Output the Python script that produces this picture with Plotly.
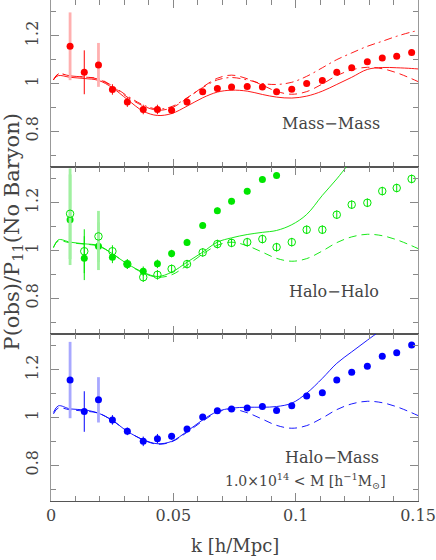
import plotly.graph_objects as go
from plotly.subplots import make_subplots

# k bins of the measured points [h/Mpc]
k_data = [0.0078, 0.0136, 0.0194, 0.0251, 0.0312, 0.0377, 0.0435, 0.0493,
          0.0556, 0.0620, 0.0680, 0.0738, 0.0802, 0.0864, 0.0922, 0.0984,
          0.1045, 0.1109, 0.1168, 0.1229, 0.1293, 0.1354, 0.1413, 0.1474]

# k grid of the model curves
k_model = [0.001, 0.003, 0.0078, 0.0136, 0.0194, 0.0251, 0.0312, 0.0377,
           0.0435, 0.0493, 0.0556, 0.0620, 0.0680, 0.0738, 0.0802, 0.0864,
           0.0922, 0.0984, 0.1045, 0.1109, 0.1168, 0.1229, 0.1293, 0.1354,
           0.1413, 0.1474, 0.15]

# Mass-Mass
mm_obs = [1.156, 1.047, 1.078, 0.975, 0.922, 0.891, 0.891, 0.888, 0.922, 0.965,
          0.979, 0.985, 0.987, 0.985, 0.965, 0.976, 1.000, 1.013, 1.047, 1.066,
          1.091, 1.107, 1.114, 1.130]
mm_err = [0.142, 0.092, 0.092, 0.022, 0.020, 0.020, 0.020, 0.016, 0.014, 0.012,
          0.010, 0.010, 0.009, 0.009, 0.008, 0.008, 0.008, 0.007, 0.007, 0.007,
          0.006, 0.006, 0.006, 0.006]
mm_model = [1.017, 1.033, 1.026, 1.021, 1.013, 0.982, 0.933, 0.884, 0.866, 0.874,
            0.905, 0.940, 0.964, 0.972, 0.968, 0.954, 0.943, 0.939, 0.947, 0.968,
            0.996, 1.026, 1.059, 1.067, 1.066, 1.063, 1.061]
mm_nonlin = [1.015, 1.040, 1.032, 1.027, 1.020, 0.990, 0.948, 0.910, 0.893, 0.903,
             0.940, 0.983, 1.015, 1.025, 1.015, 1.000, 0.996, 1.005, 1.030, 1.066,
             1.100, 1.128, 1.156, 1.177, 1.198, 1.216, 1.222]

# linear BAO ratio (dashed, same in every panel)
linear_bao = [1.015, 1.040, 1.032, 1.027, 1.018, 0.987, 0.943, 0.906, 0.888, 0.898,
              0.938, 0.985, 1.022, 1.035, 1.020, 0.993, 0.967, 0.955, 0.966, 0.998,
              1.033, 1.057, 1.068, 1.062, 1.045, 1.020, 1.008]

# Halo-Halo
hh_filled = [1.129, 0.968, 1.018, 0.972, 0.943, 0.913, 0.944, 0.987, 1.034, 1.105,
             1.167, 1.206, 1.248, 1.298, 1.314, None, None, None, None, None,
             None, None, None, None]
hh_filled_err = [0.190, 0.092, 0.100, 0.025, 0.020, 0.020, 0.018, 0.016, 0.015, 0.014,
                 0.013, 0.013, 0.013, 0.012, 0.012, 0, 0, 0, 0, 0, 0, 0, 0, 0]
hh_open = [1.154, 0.997, 1.059, 0.997, 0.943, 0.888, 0.898, 0.923, 0.943, 0.992,
           1.027, 1.032, 1.035, 1.048, 1.014, 1.035, 1.087, 1.087, 1.150, 1.192,
           1.200, 1.249, 1.262, 1.300]
hh_open_err = [0.190, 0.092, 0.107, 0.025, 0.020, 0.020, 0.020, 0.018, 0.018, 0.018,
               0.018, 0.018, 0.018, 0.018, 0.018, 0.018, 0.018, 0.018, 0.018, 0.018,
               0.018, 0.018, 0.018, 0.018]
hh_model = [1.011, 1.045, 1.035, 1.028, 1.021, 0.986, 0.944, 0.909, 0.891, 0.909,
            0.951, 0.993, 1.035, 1.053, 1.067, 1.076, 1.084, 1.108, 1.151, 1.231,
            1.300, 1.380, None, None, None, None, None]

# Halo-Mass
hm_obs = [1.157, 1.025, 1.074, 0.990, 0.942, 0.900, 0.911, 0.921, 0.952, 1.002,
          1.028, 1.036, 1.040, 1.046, 1.029, 1.049, 1.090, 1.104, 1.157, 1.190,
          1.215, 1.257, 1.271, 1.304]
hm_err = [0.160, 0.085, 0.095, 0.020, 0.016, 0.020, 0.020, 0.014, 0.012, 0.010,
          0.010, 0.009, 0.009, 0.009, 0.008, 0.008, 0.008, 0.008, 0.007, 0.007,
          0.007, 0.007, 0.007, 0.007]
hm_model = [1.021, 1.049, 1.036, 1.032, 1.018, 0.988, 0.942, 0.907, 0.890, 0.900,
            0.942, 0.990, 1.025, 1.039, 1.043, 1.043, 1.046, 1.060, 1.102, 1.164,
            1.227, 1.275, 1.324, 1.370, None, None, None]

FAINT = (0, 2)   # bins drawn with the wide pale error bar
FONT = "DejaVu Serif"
TXT = "#444444"

fig = make_subplots(rows=3, cols=1, shared_xaxes=True, vertical_spacing=0)


def add_points(row, y, err, col, pale, symbol="circle"):
    wide = [e if (i in FAINT and v is not None) else 0 for i, (e, v) in enumerate(zip(err, y))]
    thin = [0 if i in FAINT else e for i, e in enumerate(err)]
    fig.add_trace(go.Scatter(x=k_data, y=y, mode="markers",
                             marker=dict(size=7, color="rgba(0,0,0,0)"),
                             error_y=dict(type="data", array=wide, visible=True,
                                          color=pale, thickness=2.8, width=0),
                             showlegend=False), row=row, col=1)
    if symbol == "circle":
        mk = dict(size=7, color=col, symbol="circle")
    else:
        mk = dict(size=7.5, color=col, symbol="circle-open", line=dict(width=1))
    fig.add_trace(go.Scatter(x=k_data, y=y, mode="markers", marker=mk,
                             error_y=dict(type="data", array=thin, visible=True,
                                          color=col, thickness=1, width=0),
                             showlegend=False), row=row, col=1)


def add_curve(row, y, col, dash):
    fig.add_trace(go.Scatter(x=k_model, y=y, mode="lines",
                             line=dict(color=col, width=0.9, dash=dash, shape="spline"),
                             showlegend=False), row=row, col=1)


# panel 1
add_curve(1, mm_model, "#ff0000", "solid")
add_curve(1, linear_bao, "#ff0000", "8px,5px")
add_curve(1, mm_nonlin, "#ff0000", "8px,4px,2px,4px")
add_points(1, mm_obs, mm_err, "#ff0000", "#ffb0b0")

# panel 2
add_curve(2, hh_model, "#00e600", "solid")
add_curve(2, linear_bao, "#00e600", "8px,5px")
add_points(2, hh_filled, hh_filled_err, "#00e600", "#a0f0a0")
add_points(2, hh_open, hh_open_err, "#00e600", "#a0f0a0", symbol="open")

# panel 3
add_curve(3, hm_model, "#0000ff", "solid")
add_curve(3, linear_bao, "#0000ff", "8px,5px")
add_points(3, hm_obs, hm_err, "#0000ff", "#a8a8ff")

for r in (1, 2, 3):
    fig.update_xaxes(range=[0, 0.15], dtick=0.05, tick0=0, ticks="inside", ticklen=8,
                     tickcolor="#888888", showline=True, linecolor="#555555",
                     linewidth=1, mirror="allticks", showgrid=False, zeroline=False,
                     minor=dict(dtick=0.01, ticks="inside", ticklen=5, tickcolor="#888888"),
                     tickfont=dict(family=FONT, size=16, color=TXT), row=r, col=1)
    fig.update_yaxes(range=[0.65, 1.35], dtick=0.2, tick0=0, ticks="inside", ticklen=8,
                     tickcolor="#888888", showline=True, linecolor="#999999",
                     linewidth=1, mirror="allticks", showgrid=False, zeroline=False,
                     minor=dict(dtick=0.1, ticks="inside", ticklen=5, tickcolor="#888888"),
                     tickangle=-90, ticklabelstandoff=6,
                     tickfont=dict(family=FONT, size=16, color=TXT), row=r, col=1)

notes = [
    (1, 0.1352, 0.833, "Mass\u2212Mass", 16),
    (2, 0.1348, 0.828, "Halo\u2212Halo", 16),
    (3, 0.1348, 0.832, "Halo\u2212Mass", 16),
    (3, 0.1377, 0.733, "1.0\u00d710<sup>14</sup> &lt; M [h<sup>\u22121</sup>M<sub>\u2299</sub>]", 14),
]
for r, x, y, t, s in notes:
    fig.add_annotation(x=x, y=y, xref=f"x{r if r > 1 else ''}", yref=f"y{r if r > 1 else ''}",
                       text=t, showarrow=False, xanchor="right", yanchor="middle",
                       font=dict(family=FONT, size=s, color=TXT))

fig.add_annotation(x=0.5, y=0, xref="paper", yref="paper", yshift=-44,
                   text="k [h/Mpc]", showarrow=False, xanchor="center", yanchor="middle",
                   font=dict(family=FONT, size=18, color=TXT))
fig.add_annotation(x=0, y=0.536, xref="paper", yref="paper", xshift=-38,
                   text="P(obs)/P<sub>11</sub>(No Baryon)", showarrow=False,
                   textangle=-90, xanchor="center", yanchor="middle",
                   font=dict(family=FONT, size=21, color=TXT))

fig.update_layout(width=436, height=560, margin=dict(l=51, r=18, t=0, b=59),
                  paper_bgcolor="white", plot_bgcolor="white")

fig.write_html("out.html", config={"displayModeBar": False},
               post_script="document.body.style.margin='0';")
